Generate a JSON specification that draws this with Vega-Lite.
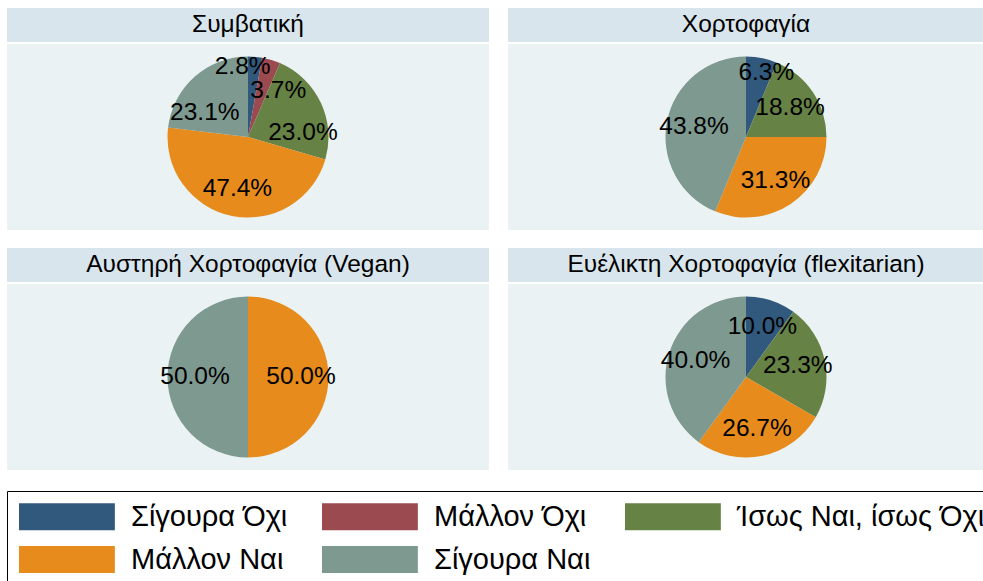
{
  "$schema": "https://vega.github.io/schema/vega-lite/v6.json",
  "background": "white",
  "padding": {"left": 6, "top": 8, "right": 0, "bottom": 0},
  "datasets": {
    "pies": [
      {"panel": "Συμβατική", "cat": "Σίγουρα Όχι", "k": 1, "p": 0.028},
      {"panel": "Συμβατική", "cat": "Μάλλον Όχι", "k": 2, "p": 0.037},
      {"panel": "Συμβατική", "cat": "Ίσως Ναι, ίσως Όχι", "k": 3, "p": 0.230},
      {"panel": "Συμβατική", "cat": "Μάλλον Ναι", "k": 4, "p": 0.474},
      {"panel": "Συμβατική", "cat": "Σίγουρα Ναι", "k": 5, "p": 0.231},
      {"panel": "Χορτοφαγία", "cat": "Σίγουρα Όχι", "k": 1, "p": 0.0625},
      {"panel": "Χορτοφαγία", "cat": "Ίσως Ναι, ίσως Όχι", "k": 3, "p": 0.1875},
      {"panel": "Χορτοφαγία", "cat": "Μάλλον Ναι", "k": 4, "p": 0.3125},
      {"panel": "Χορτοφαγία", "cat": "Σίγουρα Ναι", "k": 5, "p": 0.4375},
      {"panel": "Αυστηρή Χορτοφαγία (Vegan)", "cat": "Μάλλον Ναι", "k": 4, "p": 0.5},
      {"panel": "Αυστηρή Χορτοφαγία (Vegan)", "cat": "Σίγουρα Ναι", "k": 5, "p": 0.5},
      {"panel": "Ευέλικτη Χορτοφαγία (flexitarian)", "cat": "Σίγουρα Όχι", "k": 1, "p": 0.1},
      {"panel": "Ευέλικτη Χορτοφαγία (flexitarian)", "cat": "Ίσως Ναι, ίσως Όχι", "k": 3, "p": 0.2333},
      {"panel": "Ευέλικτη Χορτοφαγία (flexitarian)", "cat": "Μάλλον Ναι", "k": 4, "p": 0.2667},
      {"panel": "Ευέλικτη Χορτοφαγία (flexitarian)", "cat": "Σίγουρα Ναι", "k": 5, "p": 0.4}
    ]
  },
  "resolve": {"scale": {"theta": "independent"}},
  "spacing": 18,
  "vconcat": [
    {
      "spacing": 19,
      "resolve": {"scale": {"theta": "independent"}},
      "hconcat": [
        {
          "spacing": 2,
          "resolve": {"scale": {"theta": "independent"}},
          "vconcat": [
            {
              "width": 482, "height": 34,
              "view": {"fill": "#d8e5ec", "stroke": null},
              "data": {"values": [{"t": "Συμβατική"}]},
              "mark": {"type": "text", "font": "Liberation Sans", "fontSize": 24.5, "baseline": "middle", "align": "center", "color": "black"},
              "encoding": {"text": {"field": "t"}}
            },
            {
              "width": 482, "height": 186,
              "view": {"fill": "#eaf2f3", "stroke": null},
              "data": {"name": "pies"},
              "transform": [{"filter": "datum.panel === 'Συμβατική'"}],
              "encoding": {
                "theta": {"field": "p", "type": "quantitative", "stack": true},
                "order": {"field": "k", "type": "quantitative"}
              },
              "layer": [
                {
                  "mark": {"type": "arc", "radius": 80.5, "stroke": null},
                  "encoding": {
                    "color": {"field": "cat", "type": "nominal",
                      "scale": {"domain": ["Σίγουρα Όχι", "Μάλλον Όχι", "Ίσως Ναι, ίσως Όχι", "Μάλλον Ναι", "Σίγουρα Ναι"], "range": ["#31587d", "#9b4a50", "#668245", "#e68b1c", "#7e998f"]},
                      "legend": {"orient": "none", "legendX": 0, "legendY": 483, "columns": 3, "direction": "horizontal", "title": null, "symbolType": "M-1,-1H6.1V1H-1Z", "symbolSize": 729, "symbolStrokeWidth": 0, "labelFont": "Liberation Sans", "labelFontSize": 29, "labelColor": "black", "labelLimit": 400, "labelOffset": 84, "strokeColor": "black", "padding": 11, "rowPadding": 13, "columnPadding": 33}}
                  }
                },
                {
                  "mark": {"type": "text", "radius": 53,
                    "dx": {"expr": "datum.k === 1 ? -10 : datum.k === 2 ? 15 : datum.k === 3 ? 7 : datum.k === 5 ? -8 : 0"},
                    "dy": {"expr": "datum.k === 1 ? -17 : datum.k === 2 ? 5 : datum.k === 3 ? 19 : datum.k === 5 ? 16 : 0"},
                    "font": "Liberation Sans", "fontSize": 24.5, "color": "black", "baseline": "middle", "align": "center"},
                  "encoding": {"text": {"field": "p", "type": "quantitative", "format": ".1%"}}
                }
              ]
            }
          ]
        },
        {
          "spacing": 2,
          "resolve": {"scale": {"theta": "independent"}},
          "vconcat": [
            {
              "width": 476, "height": 34,
              "view": {"fill": "#d8e5ec", "stroke": null},
              "data": {"values": [{"t": "Χορτοφαγία"}]},
              "mark": {"type": "text", "font": "Liberation Sans", "fontSize": 24.5, "baseline": "middle", "align": "center", "color": "black"},
              "encoding": {"text": {"field": "t"}}
            },
            {
              "width": 476, "height": 186,
              "view": {"fill": "#eaf2f3", "stroke": null},
              "data": {"name": "pies"},
              "transform": [{"filter": "datum.panel === 'Χορτοφαγία'"}],
              "encoding": {
                "theta": {"field": "p", "type": "quantitative", "stack": true},
                "order": {"field": "k", "type": "quantitative"}
              },
              "layer": [
                {
                  "mark": {"type": "arc", "radius": 80.5, "stroke": null},
                  "encoding": {
                    "color": {"field": "cat", "type": "nominal",
                      "scale": {"domain": ["Σίγουρα Όχι", "Μάλλον Όχι", "Ίσως Ναι, ίσως Όχι", "Μάλλον Ναι", "Σίγουρα Ναι"], "range": ["#31587d", "#9b4a50", "#668245", "#e68b1c", "#7e998f"]},
                      "legend": {"orient": "none", "legendX": 0, "legendY": 483, "columns": 3, "direction": "horizontal", "title": null, "symbolType": "M-1,-1H6.1V1H-1Z", "symbolSize": 729, "symbolStrokeWidth": 0, "labelFont": "Liberation Sans", "labelFontSize": 29, "labelColor": "black", "labelLimit": 400, "labelOffset": 84, "strokeColor": "black", "padding": 11, "rowPadding": 13, "columnPadding": 33}}
                  }
                },
                {
                  "mark": {"type": "text", "radius": 53,
                    "dx": {"expr": "datum.k === 1 ? 10 : 0"},
                    "dy": {"expr": "datum.k === 1 ? -12 : 0"},
                    "font": "Liberation Sans", "fontSize": 24.5, "color": "black", "baseline": "middle", "align": "center"},
                  "encoding": {"text": {"field": "p", "type": "quantitative", "format": ".1%"}}
                }
              ]
            }
          ]
        }
      ]
    },
    {
      "spacing": 19,
      "resolve": {"scale": {"theta": "independent"}},
      "hconcat": [
        {
          "spacing": 2,
          "resolve": {"scale": {"theta": "independent"}},
          "vconcat": [
            {
              "width": 482, "height": 34,
              "view": {"fill": "#d8e5ec", "stroke": null},
              "data": {"values": [{"t": "Αυστηρή Χορτοφαγία (Vegan)"}]},
              "mark": {"type": "text", "font": "Liberation Sans", "fontSize": 24.5, "baseline": "middle", "align": "center", "color": "black"},
              "encoding": {"text": {"field": "t"}}
            },
            {
              "width": 482, "height": 186,
              "view": {"fill": "#eaf2f3", "stroke": null},
              "data": {"name": "pies"},
              "transform": [{"filter": "datum.panel === 'Αυστηρή Χορτοφαγία (Vegan)'"}],
              "encoding": {
                "theta": {"field": "p", "type": "quantitative", "stack": true},
                "order": {"field": "k", "type": "quantitative"}
              },
              "layer": [
                {
                  "mark": {"type": "arc", "radius": 80.5, "stroke": null},
                  "encoding": {
                    "color": {"field": "cat", "type": "nominal",
                      "scale": {"domain": ["Σίγουρα Όχι", "Μάλλον Όχι", "Ίσως Ναι, ίσως Όχι", "Μάλλον Ναι", "Σίγουρα Ναι"], "range": ["#31587d", "#9b4a50", "#668245", "#e68b1c", "#7e998f"]},
                      "legend": {"orient": "none", "legendX": 0, "legendY": 483, "columns": 3, "direction": "horizontal", "title": null, "symbolType": "M-1,-1H6.1V1H-1Z", "symbolSize": 729, "symbolStrokeWidth": 0, "labelFont": "Liberation Sans", "labelFontSize": 29, "labelColor": "black", "labelLimit": 400, "labelOffset": 84, "strokeColor": "black", "padding": 11, "rowPadding": 13, "columnPadding": 33}}
                  }
                },
                {
                  "mark": {"type": "text", "radius": 53, "font": "Liberation Sans", "fontSize": 24.5, "color": "black", "baseline": "middle", "align": "center"},
                  "encoding": {"text": {"field": "p", "type": "quantitative", "format": ".1%"}}
                }
              ]
            }
          ]
        },
        {
          "spacing": 2,
          "resolve": {"scale": {"theta": "independent"}},
          "vconcat": [
            {
              "width": 476, "height": 34,
              "view": {"fill": "#d8e5ec", "stroke": null},
              "data": {"values": [{"t": "Ευέλικτη Χορτοφαγία (flexitarian)"}]},
              "mark": {"type": "text", "font": "Liberation Sans", "fontSize": 24.5, "baseline": "middle", "align": "center", "color": "black"},
              "encoding": {"text": {"field": "t"}}
            },
            {
              "width": 476, "height": 186,
              "view": {"fill": "#eaf2f3", "stroke": null},
              "data": {"name": "pies"},
              "transform": [{"filter": "datum.panel === 'Ευέλικτη Χορτοφαγία (flexitarian)'"}],
              "encoding": {
                "theta": {"field": "p", "type": "quantitative", "stack": true},
                "order": {"field": "k", "type": "quantitative"}
              },
              "layer": [
                {
                  "mark": {"type": "arc", "radius": 80.5, "stroke": null},
                  "encoding": {
                    "color": {"field": "cat", "type": "nominal",
                      "scale": {"domain": ["Σίγουρα Όχι", "Μάλλον Όχι", "Ίσως Ναι, ίσως Όχι", "Μάλλον Ναι", "Σίγουρα Ναι"], "range": ["#31587d", "#9b4a50", "#668245", "#e68b1c", "#7e998f"]},
                      "legend": {"orient": "none", "legendX": 0, "legendY": 483, "columns": 3, "direction": "horizontal", "title": null, "symbolType": "M-1,-1H6.1V1H-1Z", "symbolSize": 729, "symbolStrokeWidth": 0, "labelFont": "Liberation Sans", "labelFontSize": 29, "labelColor": "black", "labelLimit": 400, "labelOffset": 84, "strokeColor": "black", "padding": 11, "rowPadding": 13, "columnPadding": 33}}
                  }
                },
                {
                  "mark": {"type": "text", "radius": 53, "font": "Liberation Sans", "fontSize": 24.5, "color": "black", "baseline": "middle", "align": "center"},
                  "encoding": {"text": {"field": "p", "type": "quantitative", "format": ".1%"}}
                }
              ]
            }
          ]
        }
      ]
    }
  ],
  "config": {"view": {"stroke": null}}
}
